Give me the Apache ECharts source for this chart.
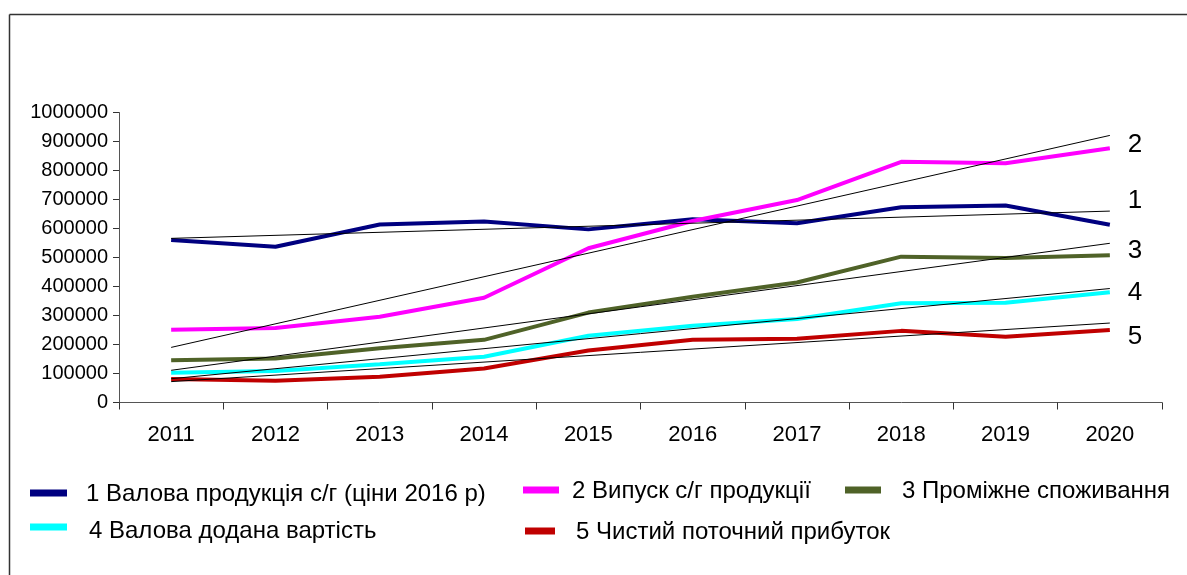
<!DOCTYPE html>
<html>
<head>
<meta charset="utf-8">
<script src="https://cdn.jsdelivr.net/npm/echarts@6/dist/echarts.min.js"></script>
<style>
html,body{margin:0;padding:0;background:#fff;}
#c{width:1187px;height:575px;}
</style>
</head>
<body>
<div id="c"></div>
<script>
const years = ['2011','2012','2013','2014','2015','2016','2017','2018','2019','2020'];
const yTicks = [0,100000,200000,300000,400000,500000,600000,700000,800000,900000,1000000];

const names = [
  '1 Валова продукція с/г (ціни 2016 р)',
  '2 Випуск с/г продукції',
  '3 Проміжне споживання',
  '4 Валова додана вартість',
  '5 Чистий поточний прибуток'
];
const colors = ['#000080','#FF00FF','#4F6228','#00FFFF','#C00000'];

const gross   = [560000,537000,614000,624000,597000,632000,618000,673000,679000,613000];
const output  = [251000,257000,296000,361000,532000,626000,698000,830000,825000,877000];
const interm  = [146000,152000,187000,216000,310000,365000,414000,503000,498000,508000];
const added   = [103000,109000,132000,158000,230000,265000,288000,342000,344000,380000];
const profit  = [81000,75000,89000,117000,179000,216000,220000,247000,227000,250000];

// trend line endpoints (2011, 2020)
const trend1 = [566000,660000];
const trend2 = [190000,921000];
const trend3 = [111000,549000];
const trend4 = [82000,393000];
const trend5 = [72000,274000];

const seriesData = [gross, output, interm, added, profit];
const trends = [trend1, trend2, trend3, trend4, trend5];
const endLabels = ['1','2','3','4','5'];

function trendSeries(t){
  const d = years.map(()=>null);
  d[0] = t[0]; d[years.length-1] = t[1];
  return d;
}

const chart = echarts.init(document.getElementById('c'), null, {renderer:'canvas'});
const FONT = 'Liberation Sans, Arial, sans-serif';

const series = [];
trends.forEach((t,i)=>{
  series.push({
    name:'trend'+(i+1), type:'line', data:trendSeries(t), connectNulls:true,
    symbol:'none', silent:true, z:3,
    lineStyle:{color:'#000', width:1}
  });
});
seriesData.forEach((d,i)=>{
  series.push({
    name:names[i], type:'line', data:d, symbol:'none', z:2,
    lineStyle:{color:colors[i], width:4}
  });
});

const legendPos = [
  {x:30, w:37, iy:493, tx:86, ty:494},
  {x:523, w:36, iy:490, tx:572, ty:491},
  {x:845, w:36, iy:490, tx:902, ty:491},
  {x:30, w:37, iy:527, tx:89, ty:531},
  {x:525, w:30, iy:531, tx:576, ty:532}
];
const graphic = [
  {type:'line', shape:{x1:9.5,y1:14.5,x2:1187,y2:14.5}, style:{stroke:'#333',lineWidth:1.5}},
  {type:'line', shape:{x1:9.5,y1:14.5,x2:9.5,y2:575}, style:{stroke:'#333',lineWidth:1.5}}
];
legendPos.forEach((p,i)=>{
  graphic.push({type:'rect', shape:{x:p.x,y:p.iy-3.5,width:p.w,height:7}, style:{fill:colors[i]}});
  graphic.push({type:'text', x:p.tx, y:p.ty, style:{text:names[i], font:'24px '+FONT, fill:'#000', textVerticalAlign:'middle'}});
});
const labelY = [201,145,251,293,337];
labelY.forEach((y,i)=>{
  graphic.push({type:'text', x:1135, y:y, style:{text:endLabels[i], font:'26px '+FONT, fill:'#000', textAlign:'center', textVerticalAlign:'middle'}});
});

chart.setOption({
  animation:false,
  backgroundColor:'#fff',
  grid:{left:119, right:25, top:112.5, bottom:172.5, containLabel:false},
  xAxis:{
    type:'category', data:years, boundaryGap:true,
    axisLine:{lineStyle:{color:'#555', width:1}},
    axisTick:{show:true, length:7, lineStyle:{color:'#333'}},
    axisLabel:{color:'#000', fontSize:22, fontFamily:FONT, margin:21}
  },
  yAxis:{
    type:'value', min:yTicks[0], max:yTicks[yTicks.length-1], interval:yTicks[1]-yTicks[0],
    axisLine:{show:true, lineStyle:{color:'#555', width:1}},
    axisTick:{show:true, length:6, lineStyle:{color:'#333'}},
    splitLine:{show:false},
    axisLabel:{color:'#000', fontSize:20, fontFamily:FONT, margin:11, formatter:function(v){return String(v);}}
  },
  series:series,
  graphic:graphic
});
</script>
</body>
</html>
